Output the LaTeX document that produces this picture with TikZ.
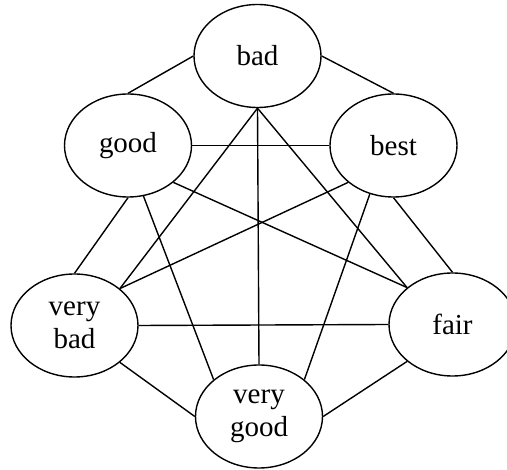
\documentclass[tikz,border=0pt]{standalone}
\usepackage{fontspec}
\setmainfont{Liberation Serif}
\usetikzlibrary{shapes.geometric}

\begin{document}
\begin{tikzpicture}[x=1pt,y=-1pt,
  term/.style={ellipse,draw=black,line width=1.4pt,minimum width=127pt,minimum height=103pt,
    inner sep=0pt,align=center,font=\fontsize{29}{33.5}\selectfont},
  edge/.style={draw=black,line width=1.4pt}]
\useasboundingbox (0,0) rectangle (507,470);
\node[term] (bad) at (257.5,56) {bad};
\node[term] (good) at (128,145.5) {good};
\node[term] (best) at (393.5,145.5) {best};
\node[term] (vbad) at (74.5,325.5) {very\\bad};
\node[term] (fair) at (452.5,324.5) {fair};
\node[term] (vgood) at (259,416.5) {very\\good};
% outer ring
\draw[edge] (bad.west) -- (good.north);
\draw[edge] (bad.east) -- (best.north);
\draw[edge] (good.south) -- (vbad.north);
\draw[edge] (best.south) -- (fair.north);
\draw[edge] (vbad.south east) -- (vgood.west);
\draw[edge] (fair.south west) -- (vgood.east);
% chords
\draw[edge] (good.east) -- (best.west);
\draw[edge] (vbad.east) -- (fair.west);
\draw[edge] (bad.south) -- (vbad.north east);
\draw[edge] (bad.south) -- (vgood.north);
\draw[edge] (bad.south) -- (fair.north west);
\draw[edge] (good.-73) -- (vgood.north west);
\draw[edge] (good.south east) -- (fair.north west);
\draw[edge] (best.south west) -- (vbad.north east);
\draw[edge] (best.-116) -- (vgood.north east);
\end{tikzpicture}
\end{document}
